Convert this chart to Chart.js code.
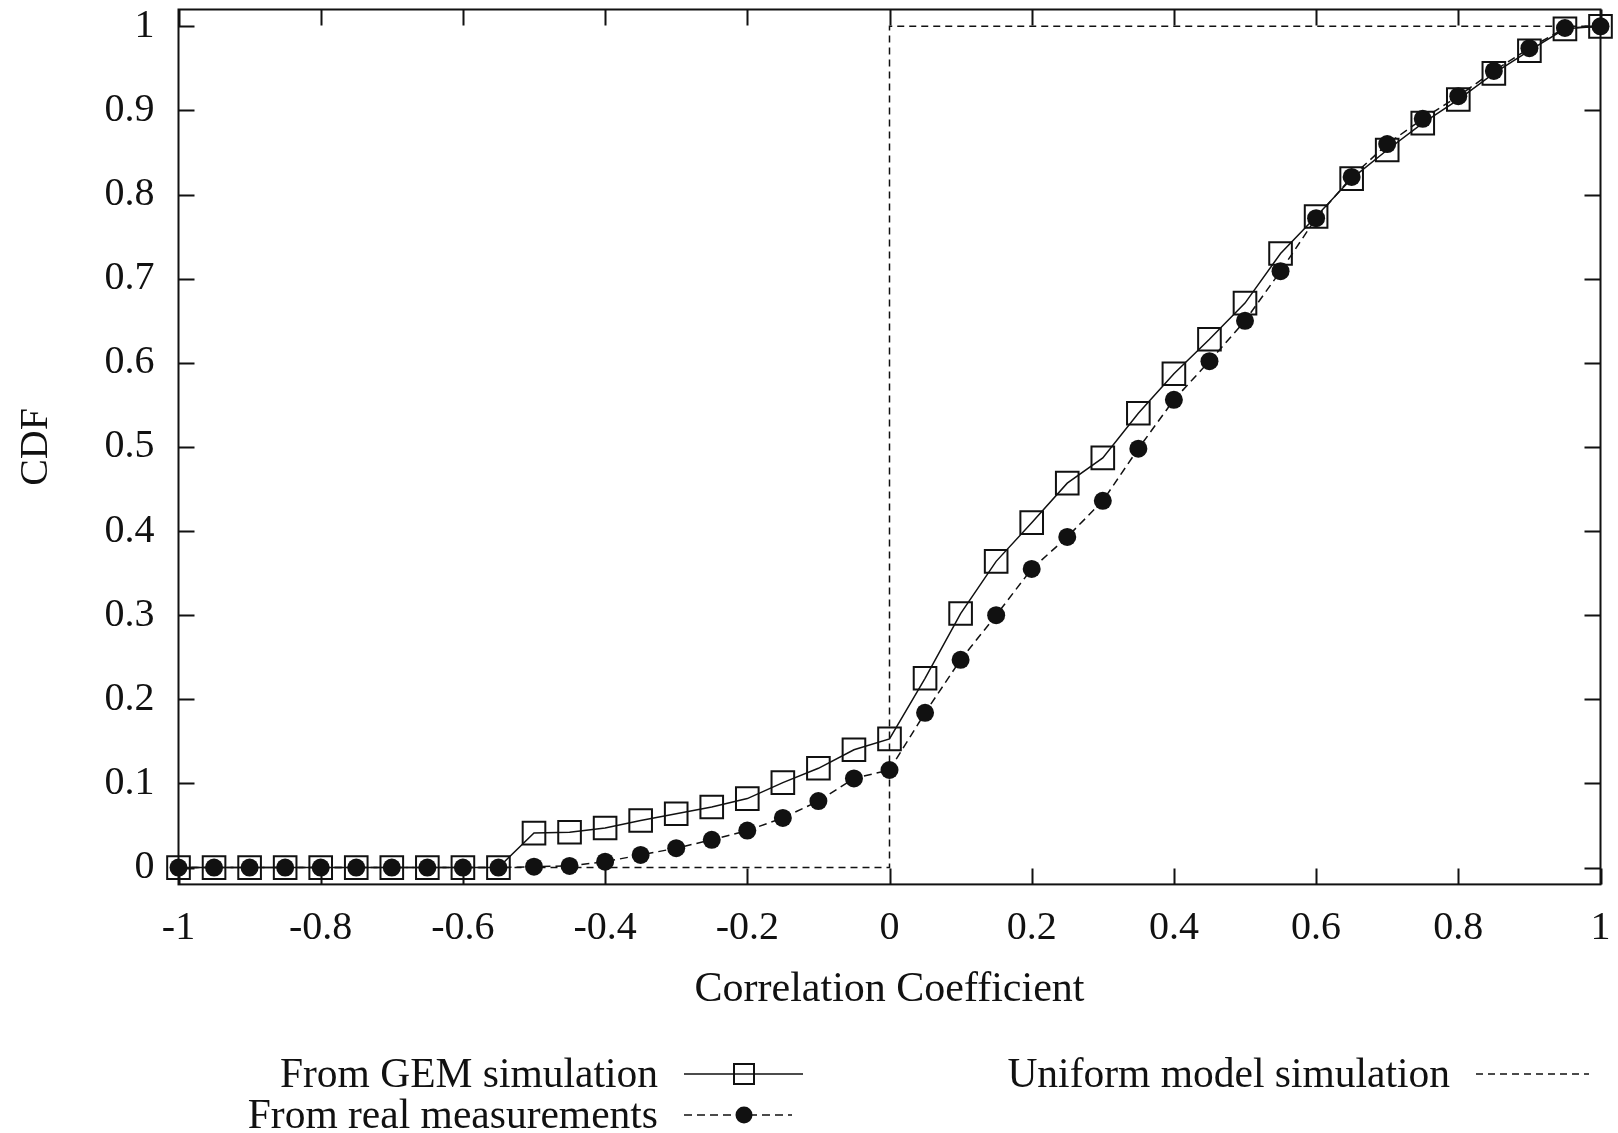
<!DOCTYPE html>
<html>
<head>
<meta charset="utf-8">
<script src="https://cdn.jsdelivr.net/npm/chart.js@4.4.0/dist/chart.umd.min.js"></script>
<style>
html,body{margin:0;padding:0;background:#ffffff;}
#wrap{width:1618px;height:1133px;position:relative;}
</style>
</head>
<body>
<div id="wrap"><canvas id="c"></canvas></div>
<script>
// ---- data ----
const xValues = [-1, -0.95, -0.9, -0.85, -0.8, -0.75, -0.7, -0.65, -0.6, -0.55,
  -0.5, -0.45, -0.4, -0.35, -0.3, -0.25, -0.2, -0.15, -0.1, -0.05,
  0, 0.05, 0.1, 0.15, 0.2, 0.25, 0.3, 0.35, 0.4, 0.45,
  0.5, 0.55, 0.6, 0.65, 0.7, 0.75, 0.8, 0.85, 0.9, 0.95, 1];
const gemValues = [0, 0, 0, 0, 0, 0, 0, 0, 0, 0,
  0.041, 0.042, 0.047, 0.056, 0.064, 0.072, 0.082, 0.101, 0.118, 0.140,
  0.153, 0.225, 0.302, 0.364, 0.410, 0.457, 0.487, 0.540, 0.587, 0.628,
  0.671, 0.730, 0.774, 0.819, 0.853, 0.885, 0.913, 0.944, 0.971, 0.997, 1.0];
const realValues = [0, 0, 0, 0, 0, 0, 0, 0, 0, 0,
  0.001, 0.002, 0.007, 0.015, 0.023, 0.033, 0.044, 0.059, 0.079, 0.106,
  0.116, 0.184, 0.247, 0.300, 0.355, 0.393, 0.436, 0.498, 0.556, 0.602,
  0.650, 0.709, 0.772, 0.821, 0.860, 0.890, 0.917, 0.947, 0.974, 0.998, 1.0];
const uniformX = [-1, 0, 0, 1];
const uniformY = [0, 0, 1, 1];
const xTickValues = [-1, -0.8, -0.6, -0.4, -0.2, 0, 0.2, 0.4, 0.6, 0.8, 1];
const xTickLabels = ['-1', '-0.8', '-0.6', '-0.4', '-0.2', '0', '0.2', '0.4', '0.6', '0.8', '1'];
const yTickValues = [0, 0.1, 0.2, 0.3, 0.4, 0.5, 0.6, 0.7, 0.8, 0.9, 1];
const yTickLabels = ['0', '0.1', '0.2', '0.3', '0.4', '0.5', '0.6', '0.7', '0.8', '0.9', '1'];
const seriesLabels = ['From GEM simulation', 'From real measurements', 'Uniform model simulation'];
const xTitle = 'Correlation Coefficient';
const yTitle = 'CDF';

// ---- helpers ----
const FONT = '"Liberation Serif", "Times New Roman", "DejaVu Serif", serif';
const INK = '#111111';
function pts(xs, ys) { return xs.map((x, i) => ({x: x, y: ys[i]})); }

const framePlugin = {
  id: 'gnuframe',
  beforeDatasetsDraw(chart) {
    const ctx = chart.ctx, a = chart.chartArea;
    const xs = chart.scales.x, ys = chart.scales.y;
    const T = 16;
    ctx.save();
    ctx.strokeStyle = INK;
    ctx.lineWidth = 2;
    ctx.beginPath();
    yTickValues.forEach(v => {
      const p = Math.round(ys.getPixelForValue(v)) + 0.5;
      ctx.moveTo(a.left, p); ctx.lineTo(a.left + T, p);
      ctx.moveTo(a.right, p); ctx.lineTo(a.right - T, p);
    });
    xTickValues.forEach(v => {
      const p = Math.round(xs.getPixelForValue(v)) + 0.5;
      ctx.moveTo(p, a.bottom); ctx.lineTo(p, a.bottom - T);
      ctx.moveTo(p, a.top); ctx.lineTo(p, a.top + T);
    });
    ctx.stroke();
    ctx.strokeRect(a.left, a.top, a.right - a.left, a.bottom - a.top);
    ctx.restore();
  }
};

const legendPlugin = {
  id: 'gnulegend',
  afterDraw(chart) {
    const ctx = chart.ctx;
    const ds = chart.data.datasets;
    ctx.save();
    ctx.font = '41.5px ' + FONT;
    ctx.fillStyle = INK;
    ctx.textAlign = 'right';
    ctx.textBaseline = 'middle';
    const items = [
      {i: 0, tx: 658, y: 1074, x0: 684, x1: 803, mx: 744},
      {i: 1, tx: 658, y: 1115, x0: 684, x1: 792, mx: 744},
      {i: 2, tx: 1450, y: 1074, x0: 1476, x1: 1589, mx: null}
    ];
    items.forEach(it => {
      const d = ds[it.i];
      ctx.fillText(d.label, it.tx, it.y + 2);
      ctx.save();
      ctx.strokeStyle = INK;
      ctx.lineWidth = d.borderWidth;
      ctx.setLineDash(d.borderDash || []);
      ctx.beginPath();
      ctx.moveTo(it.x0, it.y); ctx.lineTo(it.x1, it.y);
      ctx.stroke();
      ctx.setLineDash([]);
      if (it.mx !== null) {
        if (d.pointStyle === 'rect') {
          ctx.lineWidth = 2;
          ctx.fillStyle = '#ffffff';
          ctx.fillRect(it.mx - 10, it.y - 10, 20, 20);
          ctx.strokeRect(it.mx - 10, it.y - 10, 20, 20);
          ctx.beginPath();
          ctx.lineWidth = d.borderWidth;
          ctx.moveTo(it.mx - 10, it.y); ctx.lineTo(it.mx + 10, it.y);
          ctx.stroke();
        } else {
          ctx.fillStyle = INK;
          ctx.beginPath();
          ctx.arc(it.mx, it.y, 8.5, 0, Math.PI * 2);
          ctx.fill();
        }
      }
      ctx.restore();
    });
    ctx.restore();
  }
};

new Chart(document.getElementById('c'), {
  type: 'scatter',
  data: {
    datasets: [
      {
        label: seriesLabels[0],
        data: pts(xValues, gemValues),
        showLine: true,
        borderColor: INK,
        borderWidth: 1.5,
        pointStyle: 'rect',
        pointRadius: 16,
        pointHoverRadius: 16,
        pointBorderWidth: 2,
        pointBorderColor: INK,
        pointBackgroundColor: 'rgba(0,0,0,0)',
        clip: false,
        order: 2
      },
      {
        label: seriesLabels[1],
        data: pts(xValues, realValues),
        showLine: true,
        borderColor: INK,
        borderWidth: 1.5,
        borderDash: [8, 5],
        pointStyle: 'circle',
        pointRadius: 9,
        pointHoverRadius: 9,
        pointBorderWidth: 0,
        pointBackgroundColor: INK,
        pointBorderColor: INK,
        clip: false,
        order: 1
      },
      {
        label: seriesLabels[2],
        data: pts(uniformX, uniformY),
        showLine: true,
        borderColor: INK,
        borderWidth: 1.5,
        borderDash: [7, 5],
        pointRadius: 0,
        pointHoverRadius: 0,
        clip: false,
        order: 3
      }
    ]
  },
  options: {
    responsive: true,
    maintainAspectRatio: false,
    animation: false,
    events: [],
    layout: {autoPadding: false, padding: {left: 0, top: 9.5, right: 17.5, bottom: 117.4}},
    plugins: {
      legend: {display: false},
      tooltip: {enabled: false}
    },
    scales: {
      x: {
        type: 'linear',
        min: -1,
        max: 1,
        grid: {display: false, drawTicks: false},
        border: {display: false},
        afterBuildTicks: s => { s.ticks = xTickValues.map(v => ({value: v})); },
        afterFit: s => { s.height = 131.2; s.paddingLeft = 0; s.paddingRight = 0; },
        ticks: {
          color: INK,
          padding: 20,
          maxRotation: 0,
          autoSkip: false,
          font: {family: FONT, size: 40},
          callback: (v) => { const k = xTickValues.findIndex(t => Math.abs(t - v) < 1e-9); return k >= 0 ? xTickLabels[k] : ''; }
        },
        title: {
          display: true,
          text: xTitle,
          color: INK,
          padding: {top: 0, bottom: 0},
          font: {family: FONT, size: 42}
        }
      },
      y: {
        type: 'linear',
        min: -0.02,
        max: 1.02,
        grid: {display: false, drawTicks: false},
        border: {display: false},
        afterBuildTicks: s => { s.ticks = yTickValues.map(v => ({value: v})); },
        afterFit: s => { s.width = 178.5; s.paddingTop = 0; s.paddingBottom = 0; },
        ticks: {
          color: INK,
          padding: 24,
          autoSkip: false,
          font: {family: FONT, size: 40, lineHeight: 0.8},
          callback: (v) => { const k = yTickValues.findIndex(t => Math.abs(t - v) < 1e-9); return k >= 0 ? yTickLabels[k] : ''; }
        },
        title: {
          display: true,
          text: yTitle,
          color: INK,
          padding: {top: 12, bottom: 0},
          font: {family: FONT, size: 40}
        }
      }
    }
  },
  plugins: [framePlugin, legendPlugin]
});
</script>
</body>
</html>
